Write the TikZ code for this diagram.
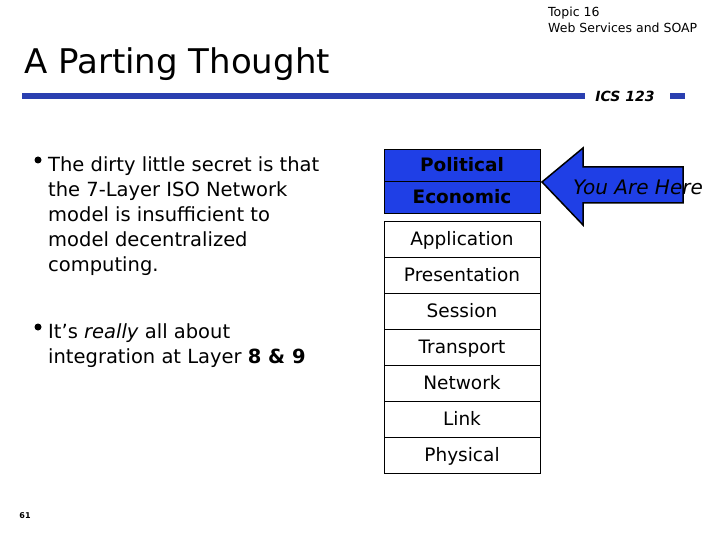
\documentclass[tikz,border=0pt]{standalone}
\usepackage{fontspec}
\setmainfont{DejaVu Sans}
\usetikzlibrary{shapes.arrows}
\definecolor{myblue}{HTML}{1F3FE6}
\definecolor{barblue}{HTML}{2A3FB0}
\begin{document}
\begin{tikzpicture}[x=1pt,y=-1pt,
  cell/.style={draw=black,line width=1pt,minimum width=156pt,minimum height=36pt,inner sep=0pt,text height=15pt,text depth=3pt,font=\fontsize{18.5}{20}\selectfont},
  bl/.style={anchor=north west,align=left,inner sep=0pt,font=\fontsize{19.5}{25}\selectfont}]
\useasboundingbox (0,0) rectangle (720,540);
\node[anchor=north west,inner sep=0pt,align=left,font=\fontsize{12.5}{15.5}\selectfont] (topic) at (548,7) {Topic 16\\Web Services and SOAP};
\node[anchor=west,inner sep=0pt,font=\fontsize{34}{36}\selectfont] (title) at (24,64) {A Parting Thought};
\fill[barblue] (22,93) rectangle (585,99);
\fill[barblue] (670,93) rectangle (685,99);
\node[inner sep=0pt,font=\fontsize{14}{16}\selectfont\rmfamily\bfseries\itshape] (ics) at (625,96) {ICS 123};
\node[bl] (b1) at (48,156) {The dirty little secret is that\\the 7-Layer ISO Network\\model is insufficient to\\model decentralized\\computing.};
\node[bl] (b2) at (48,323) {It’s \emph{really} all about\\integration at Layer \textbf{8 \& 9}};
\fill (38,160) circle (3.5);
\fill (38,327) circle (3.5);
\node[cell,fill=myblue,font=\fontsize{18.5}{20}\selectfont\bfseries,minimum height=32pt] (pol) at (462,166) {Political};
\node[cell,fill=myblue,font=\fontsize{18.5}{20}\selectfont\bfseries,minimum height=32pt] (eco) at (462,198) {Economic};
\node[cell,minimum height=35pt] (app) at (462,239.5) {Application};
\node[cell] (pre) at (462,275) {Presentation};
\node[cell] (ses) at (462,311) {Session};
\node[cell] (tra) at (462,347) {Transport};
\node[cell] (net) at (462,383) {Network};
\node[cell] (lin) at (462,419) {Link};
\node[cell] (phy) at (462,455) {Physical};
\coordinate (tip) at (542,182);
\draw[fill=myblue,line width=1.5pt,line join=miter] (tip) -- (583,148) -- (583,167) -- (683,167) -- (683,203) -- (583,203) -- (583,225) -- cycle;
\node[inner sep=0pt,font=\fontsize{20}{22}\selectfont\itshape] (here) at (638,187) {You Are Here};
\node[inner sep=0pt,font=\fontsize{8}{9}\selectfont\bfseries\rmfamily] (pg) at (25,516) {61};
\end{tikzpicture}
\end{document}
